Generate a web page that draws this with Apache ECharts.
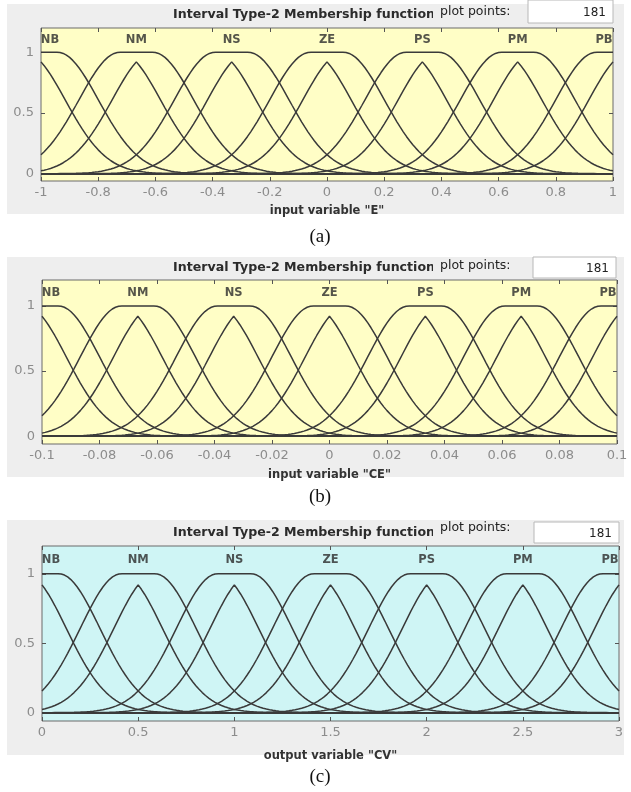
<!DOCTYPE html>
<html><head><meta charset="utf-8">
<script src="https://cdn.jsdelivr.net/npm/echarts@6/dist/echarts.min.js"></script>
<style>html,body{margin:0;padding:0;background:#fff;}#c{width:631px;height:792px;}</style>
</head><body><div id="c"></div>
<script>
// ---- data ----
const mfNames = ['NB', 'NM', 'NS', 'ZE', 'PS', 'PM', 'PB'];
// centres of the seven interval type-2 Gaussian MFs (uncertain mean)
const centersE  = [-1, -0.6667, -0.3333, 0, 0.3333, 0.6667, 1];
const centersCE = [-0.1, -0.06667, -0.03333, 0, 0.03333, 0.06667, 0.1];
const centersCV = [0, 0.5, 1, 1.5, 2, 2.5, 3];
// sigma and half-spread of the uncertain mean, per variable
const sigmaE = 0.143,  spreadE = 0.058;
const sigmaCE = 0.0143, spreadCE = 0.0058;
const sigmaCV = 0.214, spreadCV = 0.0875;
// axis ranges and tick values
const rangeE = [-1, 1], rangeCE = [-0.1, 0.1], rangeCV = [0, 3];
const xTicksE  = [-1, -0.8, -0.6, -0.4, -0.2, 0, 0.2, 0.4, 0.6, 0.8, 1];
const xTicksCE = [-0.1, -0.08, -0.06, -0.04, -0.02, 0, 0.02, 0.04, 0.06, 0.08, 0.1];
const xTicksCV = [0, 0.5, 1, 1.5, 2, 2.5, 3];
const yTicks = [0, 0.5, 1];
const plotPoints = 181;
const varNames = ['input variable "E"', 'input variable "CE"', 'output variable "CV"'];
const captions = ['(a)', '(b)', '(c)'];
const titleText = 'Interval Type-2 Membership function';

// ---- layout / style ----
const panels = [
  {centers: centersE, sigma: sigmaE, spread: spreadE, range: rangeE, ticks: xTicksE, interval: 0.2,
   grid: {left: 41, top: 28, width: 572, height: 153}, bg: '#FFFEC6', nameGap: 24,
   panel: [7, 4, 617, 210], titleY: 15, ppY: 12, box: [528, 0, 85, 23], capY: 237},
  {centers: centersCE, sigma: sigmaCE, spread: spreadCE, range: rangeCE, ticks: xTicksCE, interval: 0.02,
   grid: {left: 42, top: 280, width: 575, height: 164}, bg: '#FFFEC6', nameGap: 25,
   panel: [7, 257, 617, 220], titleY: 268, ppY: 266, box: [533, 257, 83, 21], capY: 497},
  {centers: centersCV, sigma: sigmaCV, spread: spreadCV, range: rangeCV, ticks: xTicksCV, interval: 0.5,
   grid: {left: 42, top: 546, width: 577, height: 175}, bg: '#CFF5F5', nameGap: 29,
   panel: [7, 520, 617, 235], titleY: 533, ppY: 528, box: [534, 522, 85, 21], capY: 777}
];
const lineColor = '#3a3a3a';
const yMin = -0.06, yMax = 1.2;

function g(x, m, s) { return Math.exp(-(x - m) * (x - m) / (2 * s * s)); }
function upperMF(x, c, s, d) { return x < c - d ? g(x, c - d, s) : (x > c + d ? g(x, c + d, s) : 1); }
function lowerMF(x, c, s, d) { return Math.min(g(x, c - d, s), g(x, c + d, s)); }

const fmt = v => String(+(+v).toFixed(4));
const grids = [], xAxes = [], yAxes = [], series = [], graphic = [];

panels.forEach((p, k) => {
  grids.push(Object.assign({show: true, backgroundColor: p.bg, borderColor: '#6a6a6a', borderWidth: 1}, p.grid));
  const common = {gridIndex: k, type: 'value', min: p.range[0], max: p.range[1], interval: p.interval,
    splitLine: {show: false}, axisLine: {show: false, onZero: false}};
  xAxes.push(Object.assign({}, common, {position: 'bottom',
    axisTick: {inside: true, length: 4, customValues: p.ticks, lineStyle: {color: '#555'}},
    axisLabel: {customValues: p.ticks, formatter: fmt, color: '#8c8c8c', fontSize: 13, fontFamily: 'DejaVu Sans', margin: 5,
      showMinLabel: true, showMaxLabel: true},
    name: varNames[k], nameLocation: 'middle', nameGap: p.nameGap,
    nameTextStyle: {color: '#333', fontWeight: 'bold', fontSize: 11.5, fontFamily: 'DejaVu Sans'}}));
  xAxes.push(Object.assign({}, common, {position: 'top',
    axisTick: {inside: true, length: 4, customValues: p.ticks, lineStyle: {color: '#555'}},
    axisLabel: {show: false}}));
  const yc = {gridIndex: k, type: 'value', min: yMin, max: yMax, splitLine: {show: false},
    axisLine: {show: false, onZero: false}};
  yAxes.push(Object.assign({}, yc, {position: 'left',
    axisTick: {inside: true, length: 4, customValues: yTicks, lineStyle: {color: '#555'}},
    axisLabel: {customValues: yTicks, formatter: fmt, color: '#8c8c8c', fontSize: 13, fontFamily: 'DejaVu Sans', margin: 7}}));
  yAxes.push(Object.assign({}, yc, {position: 'right',
    axisTick: {inside: true, length: 4, customValues: yTicks, lineStyle: {color: '#555'}},
    axisLabel: {show: false}}));

  const xs = [];
  for (let i = 0; i < plotPoints; i++) xs.push(p.range[0] + i * (p.range[1] - p.range[0]) / (plotPoints - 1));
  p.centers.forEach((c, i) => {
    [upperMF, lowerMF].forEach(fn => {
      series.push({type: 'line', xAxisIndex: 2 * k, yAxisIndex: 2 * k, showSymbol: false, silent: true,
        lineStyle: {color: lineColor, width: 1.5}, data: xs.map(x => [x, fn(x, c, p.sigma, p.spread)])});
    });
  });
  series.push({type: 'scatter', xAxisIndex: 2 * k, yAxisIndex: 2 * k, symbolSize: 1, silent: true,
    itemStyle: {color: 'rgba(0,0,0,0)'},
    data: p.centers.map((c, i) => ({name: mfNames[i], value: [c, 1.1],
      label: {offset: [i === 0 ? 9 : (i === mfNames.length - 1 ? -9 : 0), 0]}})),
    label: {show: true, position: 'inside', formatter: '{b}', color: '#2b2b2b', fontWeight: 'bold',
      fontSize: 11.5, fontFamily: 'DejaVu Sans'}});

  // panel chrome
  graphic.push({type: 'rect', z: -100, shape: {x: p.panel[0], y: p.panel[1], width: p.panel[2], height: p.panel[3]},
    style: {fill: '#EEEEEE'}});
  graphic.push({type: 'text', z: 10, x: 173, y: p.titleY, style: {text: titleText, fill: '#2b2b2b',
    font: 'bold 12.6px "DejaVu Sans"', textAlign: 'left', textVerticalAlign: 'middle'}});
  graphic.push({type: 'rect', z: 11, shape: {x: 433, y: p.titleY - 9, width: 7, height: 18}, style: {fill: '#EEEEEE'}});
  graphic.push({type: 'text', z: 12, x: 440, y: p.ppY, style: {text: 'plot points:', fill: '#222',
    font: '12.5px "DejaVu Sans"', textAlign: 'left', textVerticalAlign: 'middle'}});
  graphic.push({type: 'rect', z: 12, shape: {x: p.box[0], y: p.box[1], width: p.box[2], height: p.box[3]},
    style: {fill: '#FFFFFF', stroke: '#b8b8b8', lineWidth: 1}});
  graphic.push({type: 'text', z: 13, x: p.box[0] + p.box[2] - 7, y: p.box[1] + p.box[3] / 2 + 1,
    style: {text: String(plotPoints), fill: '#222', font: '12px "DejaVu Sans"', textAlign: 'right', textVerticalAlign: 'middle'}});
  graphic.push({type: 'text', z: 12, x: 320, y: p.capY, style: {text: captions[k], fill: '#111',
    font: '19px "Liberation Serif"', textAlign: 'center', textVerticalAlign: 'middle'}});
});

const chart = echarts.init(document.getElementById('c'), null, {renderer: 'canvas'});
chart.setOption({animation: false, backgroundColor: '#FFFFFF', grid: grids, xAxis: xAxes, yAxis: yAxes,
  series: series, graphic: graphic});
</script></body></html>
